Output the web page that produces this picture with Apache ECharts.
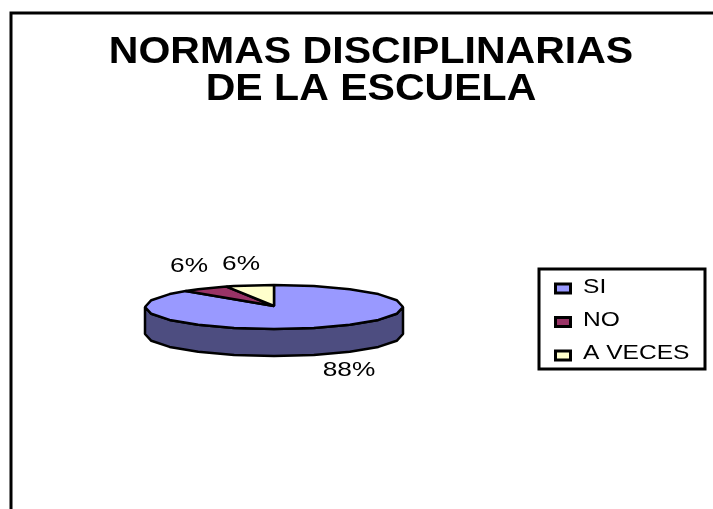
<!DOCTYPE html>
<html><head><meta charset="utf-8">
<style>html,body{margin:0;padding:0;background:#fff}#c{width:713px;height:509px}</style>
<script src="https://cdn.jsdelivr.net/npm/echarts@6/dist/echarts.min.js"></script>
</head><body><div id="c"></div>
<script>
const titleLines = ['NORMAS DISCIPLINARIAS', 'DE LA ESCUELA'];
const categories = ['SI', 'NO', 'A VECES'];
const values = [88, 6, 6];
const colors = ['#9999FF', '#993366', '#FFFFCC'];
const sideColor = '#4D4D80';
const labelPos = [[349, 370], [189, 266], [241, 264]];

const FONT = '"Liberation Sans", Arial, sans-serif';
const cx = 274, cy = 307, rx = 129, ry = 22, depth = 27, STEP = 18;
const total = values.reduce((a, b) => a + b, 0);
const pt = (deg, dy) => { const t = deg * Math.PI / 180; return [cx + rx * Math.sin(t), cy - ry * Math.cos(t) + (dy || 0)]; };
function arc(a, b, dy) {
  const out = [];
  let d = a;
  while (d < b) { out.push(pt(d, dy)); d = (Math.floor(d / STEP) + 1) * STEP; }
  out.push(pt(b, dy));
  return out;
}
let acc = 0;
const ranges = values.map(v => { const s = acc; acc += v / total * 360; return [s, acc]; });

function renderSlice(i) {
  return function () {
    const [a, b] = ranges[i];
    const children = [];
    const sa = Math.max(a, 90), sb = Math.min(b, 270);
    if (sa < sb) {
      const top = arc(sa, sb, 0), bot = arc(sa, sb, depth).reverse();
      children.push({ type: 'polygon', shape: { points: top.concat(bot) },
        style: { fill: sideColor, stroke: '#000', lineWidth: 2.5, lineJoin: 'bevel' } });
    }
    children.push({ type: 'polygon', shape: { points: [[cx, cy - 1]].concat(arc(a, b, 0)) },
      style: { fill: colors[i], stroke: '#000', lineWidth: 2.5, lineJoin: 'bevel' } });
    children.push({ type: 'text', x: labelPos[i][0], y: labelPos[i][1], scaleX: 1.25,
      style: { text: Math.round(values[i] / total * 100) + '%', x: 0, y: 0, align: 'center', verticalAlign: 'middle',
        font: '21px ' + FONT, fill: '#000' } });
    return { type: 'group', children };
  };
}

const graphic = [
  { type: 'rect', shape: { x: 11, y: 13, width: 900, height: 700 }, style: { fill: 'none', stroke: '#000', lineWidth: 3 }, silent: true },
  ...titleLines.map((t, i) => ({ type: 'text', x: 371, y: 53 + i * 37, scaleX: 1.14,
    style: { text: t, x: 0, y: 0, align: 'center', verticalAlign: 'middle', font: 'bold 36px ' + FONT, fill: '#000' } })),
  { type: 'rect', shape: { x: 539, y: 269, width: 166, height: 100 }, style: { fill: '#fff', stroke: '#000', lineWidth: 3 } },
  ...categories.flatMap((c, i) => [
    { type: 'rect', shape: { x: 555.5, y: 284 + i * 33.5, width: 15, height: 9 }, style: { fill: colors[i], stroke: '#000', lineWidth: 3 } },
    { type: 'text', x: 583, y: 287.5 + i * 33, scaleX: 1.17,
      style: { text: c, x: 0, y: 0, align: 'left', verticalAlign: 'middle', font: '21px ' + FONT, fill: '#000' } }
  ])
];

const chart = echarts.init(document.getElementById('c'), null, { renderer: 'canvas' });
chart.setOption({
  animation: false,
  backgroundColor: '#fff',
  graphic,
  series: categories.map((c, i) => ({
    type: 'custom', name: c, coordinateSystem: 'none', silent: true,
    data: [[values[i]]], renderItem: renderSlice(i)
  }))
});
</script></body></html>
